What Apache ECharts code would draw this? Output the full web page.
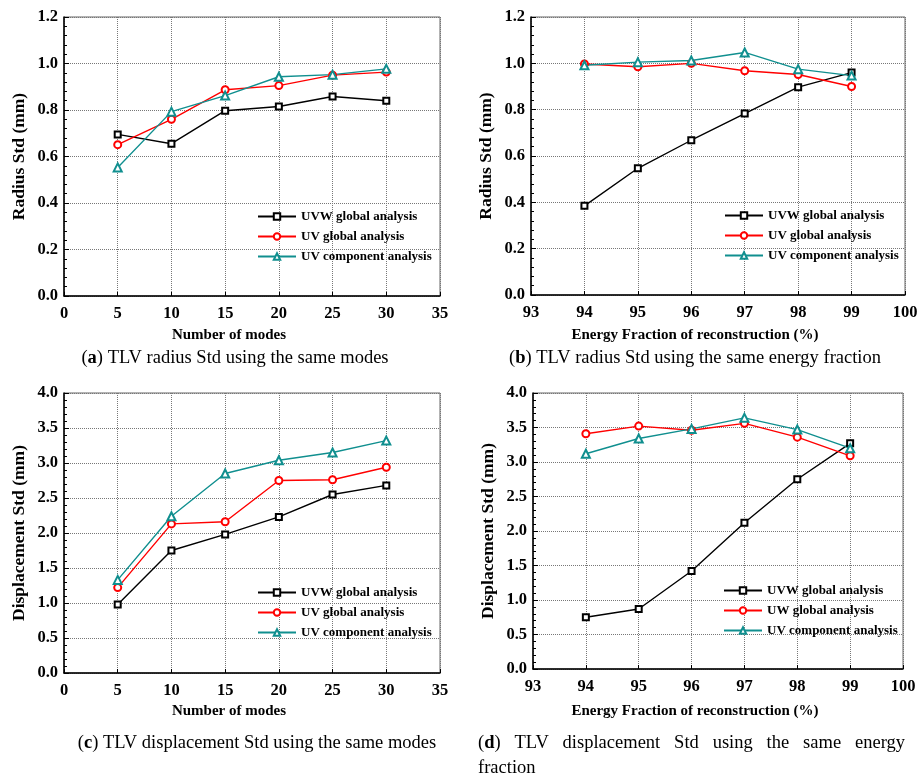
<!DOCTYPE html>
<html>
<head>
<meta charset="utf-8">
<script src="https://cdn.jsdelivr.net/npm/echarts@6/dist/echarts.min.js"></script>
<style>
  html, body { margin: 0; padding: 0; background: #fff; }
  #chart { width: 921px; height: 776px; }
</style>
</head>
<body>
<div id="chart"></div>
<script>
// x values
const modes = [5, 10, 15, 20, 25, 30];
const energy = [94, 95, 96, 97, 98, 99];

// (a) radius std vs modes
const aUVW = [0.695, 0.655, 0.797, 0.815, 0.858, 0.840];
const aUV = [0.651, 0.760, 0.887, 0.905, 0.950, 0.963];
const aUVC = [0.553, 0.793, 0.862, 0.943, 0.952, 0.977];

// (b) radius std vs energy fraction
const bUVW = [0.385, 0.547, 0.668, 0.783, 0.897, 0.960];
const bUV = [0.997, 0.985, 1.000, 0.968, 0.952, 0.900];
const bUVC = [0.992, 1.005, 1.012, 1.047, 0.975, 0.947];

// (c) displacement std vs modes
const cUVW = [0.98, 1.75, 1.98, 2.23, 2.55, 2.68];
const cUV = [1.22, 2.13, 2.16, 2.75, 2.76, 2.94];
const cUVC = [1.33, 2.24, 2.85, 3.04, 3.15, 3.32];

// (d) displacement std vs energy fraction
const dUVW = [0.75, 0.87, 1.42, 2.12, 2.75, 3.27];
const dUW = [3.41, 3.52, 3.46, 3.56, 3.36, 3.09];
const dUVC = [3.12, 3.34, 3.48, 3.64, 3.47, 3.20];

const namesABC = ['UVW global analysis', 'UV global analysis', 'UV component analysis'];
const namesD = ['UVW global analysis', 'UW global analysis', 'UV component analysis'];

const colors = ['#000000', '#ff0000', '#108f8f'];
const symbols = ['emptyRect', 'emptyCircle', 'emptyTriangle'];
const symbolSizes = [6, 7, 8];
const serif = '"Liberation Serif", "DejaVu Serif", serif';

const pair = (xs, ys) => xs.map((x, i) => [x, ys[i]]);

const grids = [
  { left: 64, top: 17, width: 376, height: 279 },
  { left: 531, top: 17, width: 374, height: 278 },
  { left: 64, top: 393, width: 376, height: 280 },
  { left: 533, top: 393, width: 370, height: 276 }
];

const xDefs = [
  { min: 0, max: 35, interval: 5 },
  { min: 93, max: 100, interval: 1 },
  { min: 0, max: 35, interval: 5 },
  { min: 93, max: 100, interval: 1 }
];
const yDefs = [
  { min: 0, max: 1.2, interval: 0.2, name: 'Radius Std (mm)' },
  { min: 0, max: 1.2, interval: 0.2, name: 'Radius Std (mm)' },
  { min: 0, max: 4, interval: 0.5, name: 'Displacement Std (mm)' },
  { min: 0, max: 4, interval: 0.5, name: 'Displacement Std (mm)' }
];

const panelData = [
  [modes, [aUVW, aUV, aUVC], namesABC],
  [energy, [bUVW, bUV, bUVC], namesABC],
  [modes, [cUVW, cUV, cUVC], namesABC],
  [energy, [dUVW, dUW, dUVC], namesD]
];

const legendPos = [
  { left: 252, top: 205 },
  { left: 719, top: 204 },
  { left: 252, top: 581 },
  { left: 718, top: 579 }
];

const tickFont = { fontFamily: serif, fontWeight: 'bold', fontSize: 16.5, color: '#000' };

const xAxis = xDefs.map((d, i) => ({
  type: 'value', gridIndex: i, min: d.min, max: d.max, interval: d.interval,
  axisLine: { show: true, lineStyle: { color: '#000', width: 1.5 } },
  axisTick: { show: true, inside: true, length: 4, lineStyle: { color: '#000' } },
  axisLabel: Object.assign({ margin: 9 }, tickFont),
  splitLine: { show: true, lineStyle: { color: '#777', type: 'dotted', width: 1 } }
}));

const yAxis = yDefs.map((d, i) => ({
  type: 'value', gridIndex: i, min: d.min, max: d.max, interval: d.interval,
  name: d.name, nameLocation: 'middle', nameGap: 36,
  nameTextStyle: { fontFamily: serif, fontWeight: 'bold', fontSize: 17.5, color: '#000' },
  axisLine: { show: true, lineStyle: { color: '#000', width: 1.5 } },
  axisTick: { show: true, inside: true, length: 5, lineStyle: { color: '#000' } },
  minorTick: { show: true, splitNumber: 5, length: 3, lineStyle: { color: '#000' } },
  axisLabel: Object.assign({ margin: 6, formatter: v => v.toFixed(1) }, tickFont),
  splitLine: { show: true, lineStyle: { color: '#777', type: 'dotted', width: 1 } }
}));

const series = [];
panelData.forEach(([xs, sets, names], p) => {
  sets.forEach((ys, k) => {
    series.push({
      name: names[k], type: 'line', xAxisIndex: p, yAxisIndex: p,
      data: pair(xs, ys),
      symbol: symbols[k], symbolSize: symbolSizes[k],
      itemStyle: { color: colors[k], borderWidth: 1 },
      lineStyle: { color: colors[k], width: 1.4 },
      animation: false
    });
  });
});

const legend = panelData.map(([xs, sets, names], p) => ({
  orient: 'vertical', left: legendPos[p].left, top: legendPos[p].top,
  itemWidth: 38, itemHeight: 8, itemGap: 7,
  textStyle: { fontFamily: serif, fontWeight: 'bold', fontSize: 13, color: '#000' },
  data: names
}));

const capStyle = {
  fontFamily: serif, fontSize: 18.5, fontWeight: 'normal', color: '#000',
  rich: {
    b: { fontFamily: serif, fontSize: 18.5, fontWeight: 'bold', color: '#000' },
    n: { fontFamily: serif, fontSize: 18.5, color: '#000' }
  }
};
const axisNameStyle = { fontFamily: serif, fontWeight: 'bold', fontSize: 15, color: '#000' };

const title = [
  { text: 'Number of modes', left: 224, top: 323, textAlign: 'center', textStyle: axisNameStyle },
  { text: 'Energy Fraction of reconstruction (%)', left: 690, top: 323, textAlign: 'center', textStyle: axisNameStyle },
  { text: 'Number of modes', left: 224, top: 699, textAlign: 'center', textStyle: axisNameStyle },
  { text: 'Energy Fraction of reconstruction (%)', left: 690, top: 699, textAlign: 'center', textStyle: axisNameStyle },
  { text: '{n|(}{b|a}{n|) TLV radius Std using the same modes}', left: 230, top: 344, textAlign: 'center', textStyle: capStyle },
  { text: '{n|(}{b|b}{n|) TLV radius Std using the same energy fraction}', left: 690, top: 344, textAlign: 'center', textStyle: capStyle },
  { text: '{n|(}{b|c}{n|) TLV displacement Std using the same modes}', left: 252, top: 729, textAlign: 'center', textStyle: capStyle },
  { text: '{n|(}{b|d}{n|)   TLV   displacement   Std   using   the   same   energy}', left: 473, top: 729, textStyle: capStyle },
  { text: 'fraction', left: 473, top: 754, textStyle: capStyle }
];

const chart = echarts.init(document.getElementById('chart'));
chart.setOption({
  backgroundColor: '#fff',
  animation: false,
  title: title,
  grid: grids.map(g => Object.assign({ show: true, borderColor: '#666', borderWidth: 1, containLabel: false }, g)),
  xAxis: xAxis,
  yAxis: yAxis,
  legend: legend,
  series: series
});
</script>
</body>
</html>
